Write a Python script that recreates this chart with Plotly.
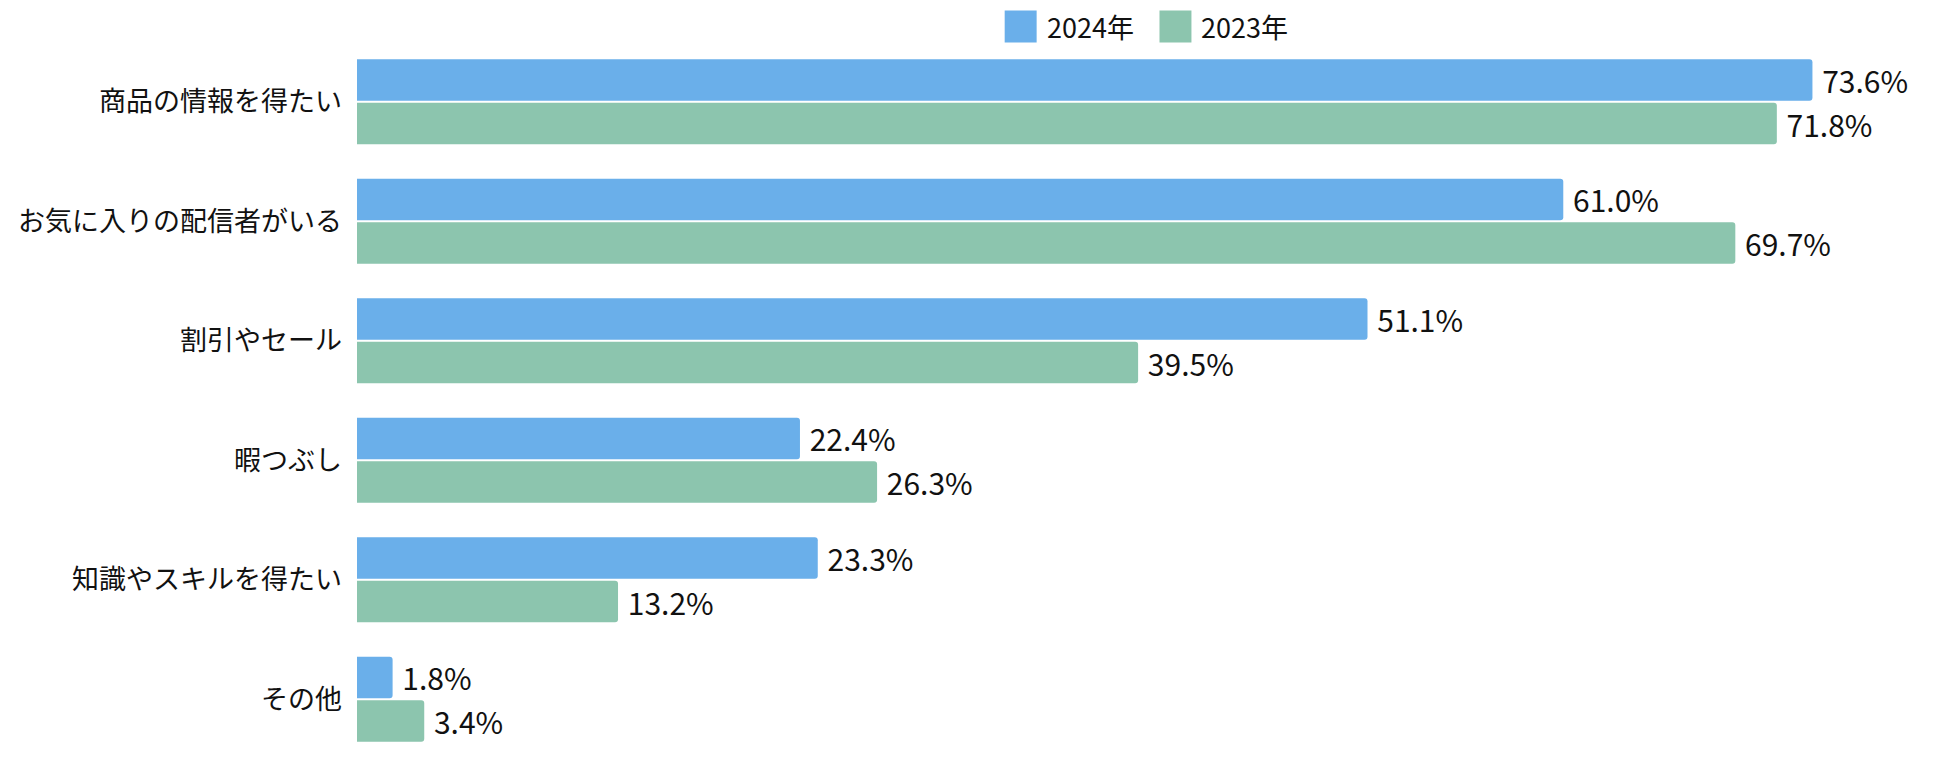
import plotly.graph_objects as go

categories = ["商品の情報を得たい", "お気に入りの配信者がいる", "割引やセール", "暇つぶし", "知識やスキルを得たい", "その他"]
series_names = ["2024年", "2023年"]
values_2024 = [73.6, 61.0, 51.1, 22.4, 23.3, 1.8]
values_2023 = [71.8, 69.7, 39.5, 26.3, 13.2, 3.4]
colors = ["#6aafea", "#8cc5ae"]

FONT = "Noto Sans CJK JP"
W, H = 1950, 761
ML, MR, MT, MB = 347, 19, 34, 10
PW = W - ML - MR
PH = H - MT - MB

def px_x(px):
    return (px - ML) / PW

def px_y(py):
    return (H - MB - py) / PH

fig = go.Figure()
for name, vals, col in zip(series_names, [values_2024, values_2023], colors):
    fig.add_trace(go.Bar(
        y=categories, x=vals, name=name, orientation="h",
        marker=dict(color=col, cornerradius=3, line=dict(width=0)),
        texttemplate="\u00a0%{x:.1f}%", textposition="outside",
        constraintext="none",
        textfont=dict(size=30, color="#111111", family=FONT),
        cliponaxis=False, showlegend=False,
    ))

# legend drawn manually (large square swatches)
shapes = []
annotations = []
legend_x = [995.5, 1150.5]
for i, (name, col) in enumerate(zip(series_names, colors)):
    x0 = legend_x[i]
    shapes.append(dict(type="rect", xref="paper", yref="paper",
                       x0=px_x(x0), x1=px_x(x0 + 32), y0=px_y(34.5), y1=px_y(2.5),
                       fillcolor=col, line=dict(width=0)))
    annotations.append(dict(xref="paper", yref="paper", x=px_x(x0 + 40), y=px_y(18.5),
                            text=name, showarrow=False, xanchor="left", yanchor="middle",
                            font=dict(size=27, color="#111111", family=FONT)))

fig.update_layout(
    width=W, height=H,
    margin=dict(l=ML, r=MR, t=MT, b=MB),
    paper_bgcolor="white", plot_bgcolor="white",
    barmode="group", bargap=0.27, bargroupgap=0.05,
    font=dict(family=FONT, size=27, color="#111111"),
    xaxis=dict(range=[0, 80], visible=False, showgrid=False, zeroline=False),
    yaxis=dict(autorange="reversed", showgrid=False, zeroline=False, showline=False,
               ticks="", ticklabelstandoff=14,
               tickfont=dict(size=27, color="#111111", family=FONT)),
    shapes=shapes, annotations=annotations,
)

fig.write_html("out.html")
